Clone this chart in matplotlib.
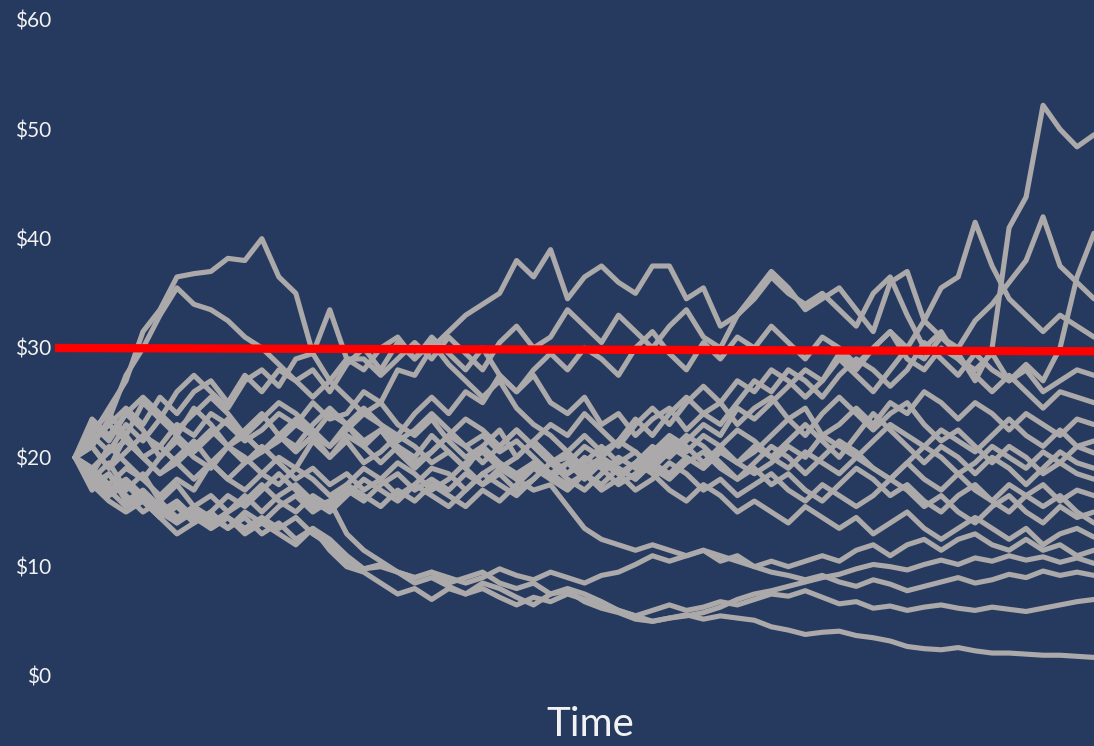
import matplotlib
matplotlib.use("Agg")
import matplotlib.pyplot as plt
import numpy as np

# time steps (61 sample points across the chart)
time_steps = list(range(61))

# simulated price paths ($)
path01 = [20, 22, 24.5, 27, 31.5, 33.5, 36.5, 36.8, 37, 38.2, 38,
          40, 36.5, 35, 29.5, 27, 25.5, 24, 25, 23, 22,
          23.5, 21.5, 20, 21, 19.5, 18.5, 19.5, 18, 17, 18.5,
          17.5, 19, 18, 19.5, 18.5, 20, 19, 20.5, 19.5, 21,
          20, 19, 20.5, 19.5, 18.5, 20, 19, 18, 19.5, 18,
          17, 18.5, 17, 16, 17.5, 16.5, 15.5, 16.5, 15, 14]
path02 = [20, 21, 23.5, 27.5, 30, 33, 35.5, 34, 33.5, 32.5, 31,
          30, 28.5, 27, 28, 26, 28.5, 30, 28, 30.5, 29,
          31, 29.5, 28, 30, 27.5, 26, 27.5, 25, 24, 25.5,
          23, 24, 22, 23.5, 24.5, 22.5, 24, 25, 23, 24.5,
          25.5, 23.5, 24.5, 22, 23, 24.5, 23, 25, 24, 26,
          25, 23.5, 25, 24, 22.5, 24, 23, 22, 23.5, 23]
path03 = [20, 21, 19, 20.5, 22, 21, 23, 22, 24, 23, 21.5,
          22.5, 24, 23, 25, 23.5, 24, 26, 25, 28, 27.5,
          30, 31.5, 33, 34, 35, 38, 36.5, 39, 34.5, 36.5,
          37.5, 36, 35, 37.5, 37.5, 34.5, 35.5, 32, 33, 34.5,
          36.5, 35, 34, 35, 33.5, 32, 35, 36.5, 33, 30,
          31.5, 29, 28, 29.5, 27, 28, 26, 27, 28, 27.5]
path04 = [20, 18.5, 21, 19.5, 18, 20, 21.5, 20, 19, 21, 22,
          20.5, 22, 23.5, 22, 21, 23, 24.5, 23, 22, 24,
          25.5, 24, 26, 25, 27.5, 26, 28, 29.5, 28, 30,
          29, 27.5, 30, 31.5, 29.5, 28, 30.5, 29, 31, 30,
          32, 30.5, 29, 31, 30, 28.5, 30, 31.5, 30, 32.5,
          31, 29.5, 27, 30, 41, 43.8, 52.2, 50, 48.4, 49.5]
path05 = [20, 22.5, 24, 22, 25, 23.5, 26, 27.5, 26, 24.5, 27,
          28, 26.5, 29, 29.5, 33.5, 29, 29, 27.5, 29, 30.5,
          29, 31, 29.5, 28, 30.5, 32, 30, 31, 33.5, 32,
          30.5, 33, 31.5, 30, 32, 33.5, 31, 30, 33, 35,
          37, 35.5, 33.5, 34.5, 35.5, 33.5, 31.5, 36, 37, 32.5,
          35.5, 36.5, 41.5, 37.5, 34.5, 33, 31.5, 33, 32, 31]
path06 = [20, 19, 17.5, 19, 18, 16.5, 18, 17, 19.5, 18, 17,
          18.5, 20, 19, 21.5, 20, 22, 21, 19.5, 21, 20,
          22, 20.5, 19, 21, 22.5, 20, 21.5, 23, 22, 24,
          22.5, 21, 23, 24.5, 23, 25, 26.5, 25, 27, 26,
          28, 27, 25.5, 27, 29, 27.5, 26, 28, 30, 29,
          31, 30, 32.5, 34, 36, 38, 42, 37.5, 36, 34.5]
path07 = [20, 23, 21.5, 24, 22.5, 20, 22, 24.5, 23, 21, 22.5,
          24, 22, 20.5, 22, 24, 23, 21, 22.5, 20.5, 19,
          20.5, 22, 21, 19.5, 21, 22.5, 21, 19.5, 20.5, 22,
          20.5, 21.5, 23.5, 22, 24, 25.5, 24, 23, 25, 27,
          26, 28, 27, 25.5, 27.5, 29, 28, 26.5, 28, 30.5,
          29, 27.5, 29.5, 28, 27, 28.5, 27, 30, 36.5, 40.5]
path08 = [20, 21.5, 23, 24.5, 23, 25.5, 24, 26, 27, 25, 27.5,
          26, 28, 27, 25.5, 27, 29, 28, 30, 31, 29,
          30.5, 28.5, 27, 25.5, 27, 24.5, 23, 22, 20.5, 19,
          20, 18.5, 19.5, 21, 20, 21.5, 23, 22, 24.5, 23.5,
          25, 26.5, 28, 27, 29.5, 28, 30, 31.5, 29, 28,
          30, 29, 27.5, 26, 27.5, 26, 24.5, 26, 25.5, 25]
path09 = [20, 18, 19.5, 17, 18.5, 16, 17.5, 15.5, 16.5, 15, 16,
          17.5, 16, 15, 16.5, 15.5, 17, 16, 17.5, 18.5, 17,
          18, 17, 18.5, 17.5, 19, 18, 19.5, 18.5, 17.5, 18.5,
          20, 19, 18, 19.5, 21, 20, 19, 20.5, 19.5, 18.5,
          19.5, 21, 20, 22, 21, 20, 21.5, 23, 22, 21,
          22.5, 21.5, 20.5, 22, 23.5, 22, 21, 22.5, 21, 21.5]
path10 = [20, 21, 19, 22, 20, 18.5, 20, 21.5, 19.5, 18, 19.5,
          21, 19.5, 18, 19, 17.5, 18.5, 17, 18, 19.5, 18.5,
          17, 18, 19.5, 20.5, 19, 20, 21.5, 20, 18.5, 19.5,
          21, 19.5, 20.5, 19, 18, 19.5, 20.5, 19, 18, 19.5,
          21, 20, 18.5, 20, 21.5, 20.5, 19, 18, 19.5, 21,
          20, 18.5, 19.5, 21, 20, 19, 20.5, 19.5, 21, 20.4]
path11 = [20, 17.5, 18.5, 16.5, 15, 16, 14.5, 15.5, 14, 15, 16.5,
          15, 16.5, 17.5, 16, 15, 16.5, 18, 17, 16, 17.5,
          16.5, 15.5, 17, 18.5, 17.5, 16.5, 18, 19.5, 18, 17,
          18.5, 20, 19, 20.5, 22, 21, 19.5, 21, 22.5, 21.5,
          20, 21.5, 23, 21.5, 20, 22, 24, 22.5, 21, 19.5,
          21, 20, 18.5, 20, 19, 17.5, 19, 20.5, 19.5, 19]
path12 = [20, 22, 20.5, 23, 21.5, 23.5, 22, 20.5, 22, 23.5, 22,
          20.5, 21.5, 23, 22, 20, 21.5, 19.5, 20.5, 22, 21,
          19.5, 20.5, 19, 17.5, 18.5, 17, 18, 19.5, 18.5, 20,
          19, 17.5, 18.5, 20, 21.5, 20.5, 22, 21, 19.5, 20.5,
          22, 23.5, 22, 24, 25.5, 24, 22.5, 24, 25, 23,
          21.5, 22.5, 21, 19.5, 21, 20, 18.5, 19.5, 18.5, 18]
path13 = [20, 18.5, 17, 18, 16.5, 15, 14, 15.5, 14.5, 13.5, 15,
          14, 15.5, 16.5, 15, 16, 17.5, 16.5, 15.5, 17, 16,
          17.5, 16.5, 15.5, 17, 16, 17.5, 19, 18, 19.5, 21,
          20, 21.5, 20.5, 19, 20.5, 22, 21, 19.5, 18, 19,
          17.5, 18.5, 17, 16, 17.5, 19, 18, 16.5, 17.5, 16,
          15, 16.5, 17.5, 16, 15, 16.5, 17.5, 16, 17, 16.5]
path14 = [20, 23.5, 22, 24, 25.5, 24, 22.5, 24, 25.5, 24, 22,
          23.5, 25, 24, 22.5, 21, 22.5, 24, 23, 21.5, 22.5,
          24, 22.5, 21, 22, 20.5, 21.5, 20, 18.5, 19.5, 18,
          19.5, 18.5, 17, 18, 19.5, 18.5, 17, 18, 16.5, 17.5,
          18.5, 17, 16, 17.5, 16.5, 15.5, 16.5, 18, 17, 15.5,
          16.5, 15, 14, 15.5, 16.5, 15, 14, 15.5, 14.5, 15]
path15 = [20, 19, 20.5, 21.5, 20, 18.5, 19.5, 21, 22.5, 21, 19.5,
          20.5, 22, 21, 23, 24.5, 23, 21.5, 22.5, 21, 19.5,
          20.5, 22, 23.5, 22.5, 21, 22.5, 21, 19.5, 20, 18.5,
          17, 18, 19.5, 18.5, 17, 16, 17.5, 16.5, 15, 16,
          15, 14, 15.5, 14.5, 13.5, 14.5, 13, 14, 15, 13.5,
          12.5, 13.5, 14.5, 13.5, 12.5, 13.5, 12, 13, 13.5, 12.7]
path16 = [20, 21.5, 23, 21.5, 20, 21, 19.5, 18, 19.5, 21, 20,
          18.5, 17.5, 19, 18, 16.5, 17.5, 19, 18, 16.5, 17.5,
          19, 18.5, 17, 18.5, 19.5, 18, 17, 17.5, 15.5, 13.5,
          12.5, 12, 11.5, 12, 11.5, 11, 11.5, 10.5, 11, 10,
          10.5, 10, 10.5, 11, 10.5, 11.5, 12, 11, 12, 12.5,
          11.5, 12.5, 13, 12, 11.5, 12.5, 11.5, 12, 11, 11.5]
path17 = [20, 18, 16.5, 17.5, 16, 14.5, 15.5, 14, 15, 16.5, 15.5,
          17, 18.5, 17, 15.5, 16, 13, 11.5, 10.5, 9.5, 9,
          9.5, 8.5, 9, 9.5, 8.5, 8, 8.5, 7.5, 7.8, 6.8,
          6.2, 5.8, 5.2, 5, 5.3, 5.5, 5.8, 6.3, 7, 7.5,
          7.8, 8.2, 8.6, 9, 9.3, 9.8, 10.2, 10, 9.7, 10.2,
          10.6, 10.2, 10.8, 10.5, 11, 10.6, 10.9, 10.4, 10.8, 10.3]
path18 = [20, 17, 18.5, 16, 17, 15.5, 14, 15, 13.5, 14.5, 13.5,
          14.5, 13.5, 14.5, 13, 12, 10.5, 9.8, 10, 9.5, 9,
          9.5, 9, 8.5, 9, 9.8, 9.2, 8.8, 9.5, 9, 8.5,
          9.2, 9.5, 10.2, 11, 10.5, 11, 11.5, 11, 10.5, 10,
          9.5, 9.2, 8.8, 9.2, 8.6, 8.2, 8.8, 8.4, 7.8, 8.2,
          8.6, 9, 8.5, 8.8, 9.3, 9.0, 9.6, 9.2, 9.5, 9.2]
path19 = [20, 18.5, 17, 15.5, 16.5, 15, 16, 14.5, 13.5, 14.5, 13,
          14, 13, 12, 13.5, 12.5, 11, 9.8, 10.2, 9.5, 8.5,
          9, 8.2, 7.5, 8, 7.2, 6.5, 7.2, 6.8, 7.5, 7,
          6.5, 6, 5.5, 6, 6.5, 6, 6.3, 6.8, 6.5, 7,
          7.5, 7.3, 7.8, 7.2, 6.6, 6.8, 6.2, 6.4, 6, 6.3,
          6.5, 6.2, 6.0, 6.3, 6.1, 5.9, 6.2, 6.5, 6.8, 7.0]
path20 = [20, 17.5, 16, 15, 16, 14.5, 13, 14, 15, 13.5, 14.5,
          13, 14, 12.5, 13.5, 11.5, 10, 9.5, 8.5, 7.5, 8,
          7, 8, 7.5, 8.5, 8, 7.2, 6.5, 7.5, 8, 7.5,
          6.8, 6, 5.5, 5, 5.3, 5.6, 5.2, 5.5, 5.3, 5.1,
          4.5, 4.2, 3.8, 4, 4.1, 3.7, 3.5, 3.2, 2.7, 2.5,
          2.4, 2.6, 2.3, 2.1, 2.1, 2.0, 1.9, 1.9, 1.8, 1.7]

paths = [path01, path02, path03, path04, path05, path06, path07, path08,
         path09, path10, path11, path12, path13, path14, path15, path16,
         path17, path18, path19, path20]

# red target line
target_t = [-1.18, 60]
target_values = [30.0, 29.7]

ytick_values = [0, 10, 20, 30, 40, 50, 60]
ytick_labels = ["\\$0", "\\$10", "\\$20", "\\$30", "\\$40", "\\$50", "\\$60"]

BG = "#26395E"
GRAY = "#ABA9A9"

fig = plt.figure(figsize=(10.94, 7.46), dpi=100, facecolor=BG)
ax = fig.add_axes([55 / 1094, 70 / 746, 1 - 55 / 1094, 656 / 746])
ax.set_facecolor(BG)

for p in paths:
    ax.plot(time_steps, p, color=GRAY, lw=3.7, solid_joinstyle="round",
            solid_capstyle="round")

ax.plot(target_t, target_values, color="#FF0000", lw=6.0, solid_capstyle="butt")

ax.set_xlim(-1.18, 60)
ax.set_ylim(0, 60)
ax.set_yticks(ytick_values)
ax.set_yticklabels(ytick_labels, fontsize=15, color="#F2F2F2", family="Lato")
ax.tick_params(axis="y", length=0, pad=3)
ax.set_xticks([])
for s in ax.spines.values():
    s.set_visible(False)

fig.text(590 / 1094, 1 - 725 / 746, "Time", ha="center", va="center",
         fontsize=29, color="#F2F2F2", family="Lato")

fig.savefig("out.png", dpi=100, facecolor=BG)
